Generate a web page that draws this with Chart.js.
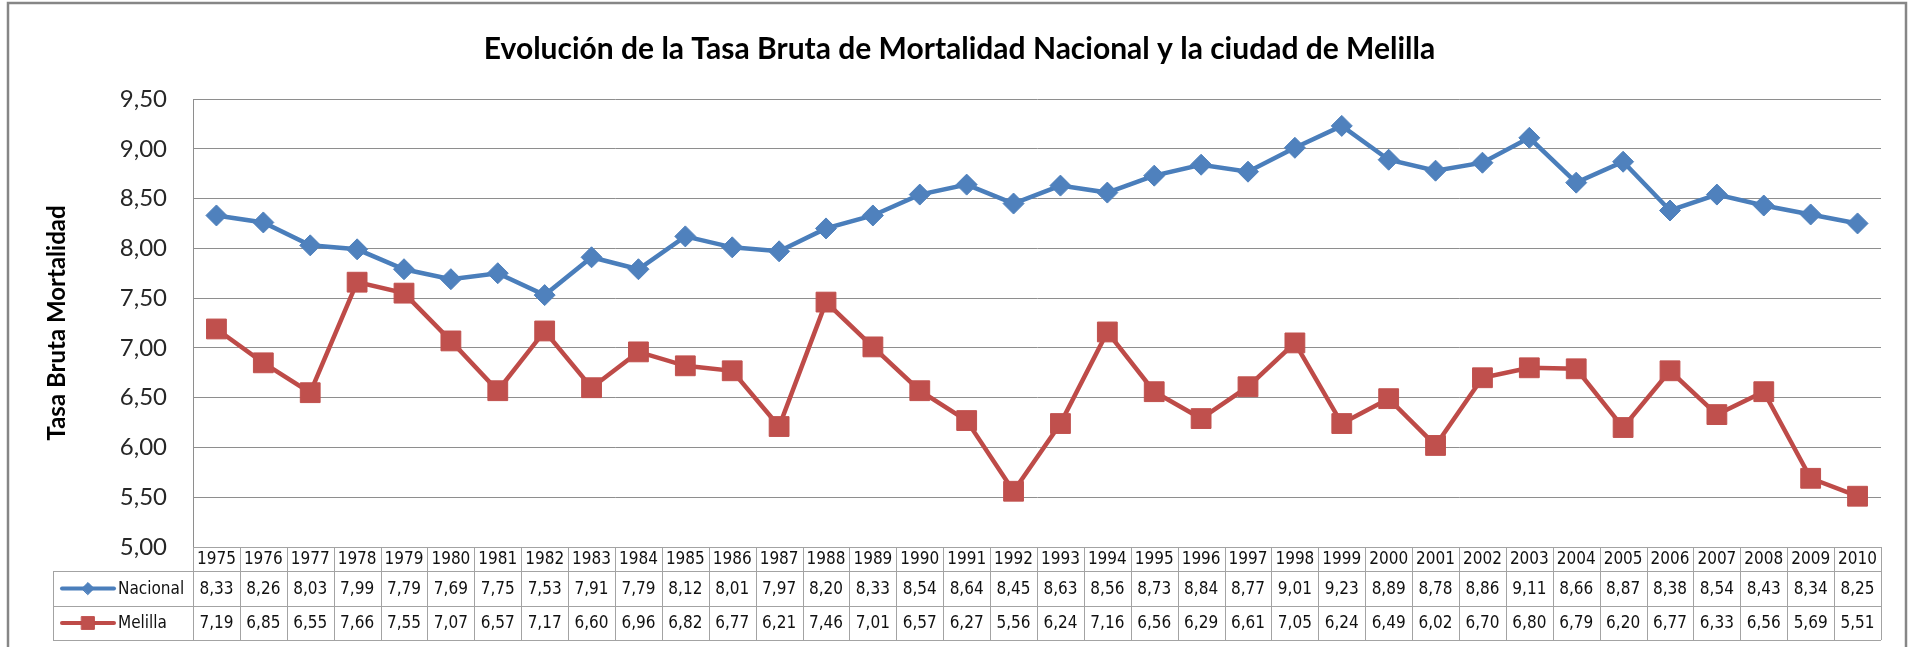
<!DOCTYPE html>
<html>
<head>
<meta charset="utf-8">
<script src="https://cdn.jsdelivr.net/npm/chart.js@4.4.1/dist/chart.umd.min.js"></script>
<style>
  body { margin: 0; background: #fff; }
  #wrap { width: 1912px; height: 647px; }
</style>
</head>
<body>
<div id="wrap"><canvas id="mortalidad" width="1912" height="647"></canvas></div>
<script>
var years = ['1975','1976','1977','1978','1979','1980','1981','1982','1983','1984','1985','1986',
  '1987','1988','1989','1990','1991','1992','1993','1994','1995','1996','1997','1998',
  '1999','2000','2001','2002','2003','2004','2005','2006','2007','2008','2009','2010'];
var nacional = [8.33, 8.26, 8.03, 7.99, 7.79, 7.69, 7.75, 7.53, 7.91, 7.79, 8.12, 8.01,
  7.97, 8.20, 8.33, 8.54, 8.64, 8.45, 8.63, 8.56, 8.73, 8.84, 8.77, 9.01,
  9.23, 8.89, 8.78, 8.86, 9.11, 8.66, 8.87, 8.38, 8.54, 8.43, 8.34, 8.25];
var melilla = [7.19, 6.85, 6.55, 7.66, 7.55, 7.07, 6.57, 7.17, 6.60, 6.96, 6.82, 6.77,
  6.21, 7.46, 7.01, 6.57, 6.27, 5.56, 6.24, 7.16, 6.56, 6.29, 6.61, 7.05,
  6.24, 6.49, 6.02, 6.70, 6.80, 6.79, 6.20, 6.77, 6.33, 6.56, 5.69, 5.51];
var yTicks = [5.0, 5.5, 6.0, 6.5, 7.0, 7.5, 8.0, 8.5, 9.0, 9.5];

var AZUL = '#4A7EBB', AZUL_P = '#4F81BD';
var ROJO = '#BE4B48', ROJO_P = '#C0504D';
var GRIS = '#8e8e8e';
var FUENTE_TABLA = '"Liberation Sans Narrow", "DejaVu Sans Condensed", sans-serif';

function coma(v) { return Number(v).toFixed(2).replace('.', ','); }

// tabla de datos bajo el grafico + marco exterior
var tablaDatos = {
  id: 'tablaDatos',
  beforeDraw: function (chart) {
    var ctx = chart.ctx;
    ctx.save();
    ctx.fillStyle = '#fff';
    ctx.fillRect(0, 0, chart.width, chart.height);
    ctx.strokeStyle = '#868686';
    ctx.lineWidth = 2.5;
    ctx.strokeRect(8, 3, 1898, 660);
    ctx.restore();
  },
  afterDraw: function (chart) {
    var ctx = chart.ctx, x = chart.scales.x, area = chart.chartArea;
    var colW = (area.right - area.left) / years.length;
    var top = area.bottom, r1 = top + 24, r2 = r1 + 35, r3 = r2 + 34;
    var keyLeft = 53;
    ctx.save();
    ctx.strokeStyle = '#a3a3a3';
    ctx.lineWidth = 1;
    ctx.beginPath();
    ctx.moveTo(area.left, Math.round(top) + 0.5); ctx.lineTo(area.right, Math.round(top) + 0.5);
    [r1, r2, r3].forEach(function (yy) {
      ctx.moveTo(keyLeft, Math.round(yy) + 0.5); ctx.lineTo(area.right, Math.round(yy) + 0.5);
    });
    for (var i = 0; i <= years.length; i++) {
      var xx = Math.round(area.left + i * colW) + 0.5;
      ctx.moveTo(xx, top); ctx.lineTo(xx, r3);
    }
    ctx.moveTo(keyLeft + 0.5, r1); ctx.lineTo(keyLeft + 0.5, r3);
    ctx.stroke();

    ctx.fillStyle = '#111';
    ctx.font = '17px ' + FUENTE_TABLA;
    ctx.textAlign = 'center';
    ctx.textBaseline = 'middle';
    years.forEach(function (yr, i) {
      var cx = x.getPixelForValue(i);
      ctx.fillText(yr, cx, (top + r1) / 2 + 1);
      ctx.fillText(coma(nacional[i]), cx, (r1 + r2) / 2 + 1);
      ctx.fillText(coma(melilla[i]), cx, (r2 + r3) / 2 + 1);
    });

    // claves de leyenda
    var filas = [
      { y: (r1 + r2) / 2, ds: chart.data.datasets[0], r: 6 },
      { y: (r2 + r3) / 2, ds: chart.data.datasets[1], r: 9 }
    ];
    filas.forEach(function (f) {
      ctx.strokeStyle = f.ds.borderColor;
      ctx.lineWidth = 4;
      ctx.lineCap = 'round';
      ctx.beginPath();
      ctx.moveTo(62, f.y); ctx.lineTo(114, f.y);
      ctx.stroke();
      ctx.fillStyle = f.ds.pointBackgroundColor;
      ctx.lineWidth = 1;
      Chart.helpers.drawPoint(ctx, { pointStyle: f.ds.pointStyle, radius: f.r, rotation: 0, borderWidth: 1 }, 88, f.y);
      ctx.fillStyle = '#111';
      ctx.textAlign = 'left';
      ctx.fillText(f.ds.label, 118, f.y + 1);
    });
    ctx.restore();
  }
};

new Chart(document.getElementById('mortalidad'), {
  type: 'line',
  data: {
    labels: years,
    datasets: [{
      label: 'Nacional',
      data: nacional,
      borderColor: AZUL,
      backgroundColor: AZUL_P,
      pointBackgroundColor: AZUL_P,
      pointBorderColor: AZUL_P,
      pointStyle: 'rectRot',
      pointRadius: 10.5,
      pointBorderWidth: 1,
      borderWidth: 4.5,
      tension: 0
    }, {
      label: 'Melilla',
      data: melilla,
      borderColor: ROJO,
      backgroundColor: ROJO_P,
      pointBackgroundColor: ROJO_P,
      pointBorderColor: ROJO_P,
      pointStyle: 'rect',
      pointRadius: 14,
      pointBorderWidth: 1,
      borderWidth: 4.5,
      tension: 0
    }]
  },
  options: {
    responsive: false,
    animation: false,
    layout: { padding: { left: 38, right: 31, top: 0, bottom: 100 } },
    plugins: {
      legend: { display: false },
      tooltip: { enabled: false },
      title: {
        display: true,
        text: 'Evolución de la Tasa Bruta de Mortalidad Nacional y la ciudad de Melilla',
        font: { family: 'Lato', size: 30, weight: 'bold' },
        color: '#000',
        padding: { top: 31, bottom: 32 }
      }
    },
    scales: {
      x: {
        type: 'category',
        display: false,
        offset: true
      },
      y: {
        min: 5,
        max: 9.5,
        afterFit: function (s) { s.width = 155; },
        afterBuildTicks: function (s) { s.ticks = yTicks.map(function (v) { return { value: v }; }); },
        ticks: {
          callback: function (v) { return coma(v); },
          padding: 26,
          font: { family: 'Lato', size: 24 },
          color: '#262626'
        },
        grid: { color: GRIS, drawTicks: false, lineWidth: 1 },
        border: { color: GRIS },
        title: {
          display: true,
          text: 'Tasa Bruta Mortalidad',
          font: { family: 'Lato', size: 24, weight: 'bold' },
          color: '#000',
          padding: { top: 5, bottom: 0 }
        }
      }
    }
  },
  plugins: [tablaDatos]
});
</script>
</body>
</html>
